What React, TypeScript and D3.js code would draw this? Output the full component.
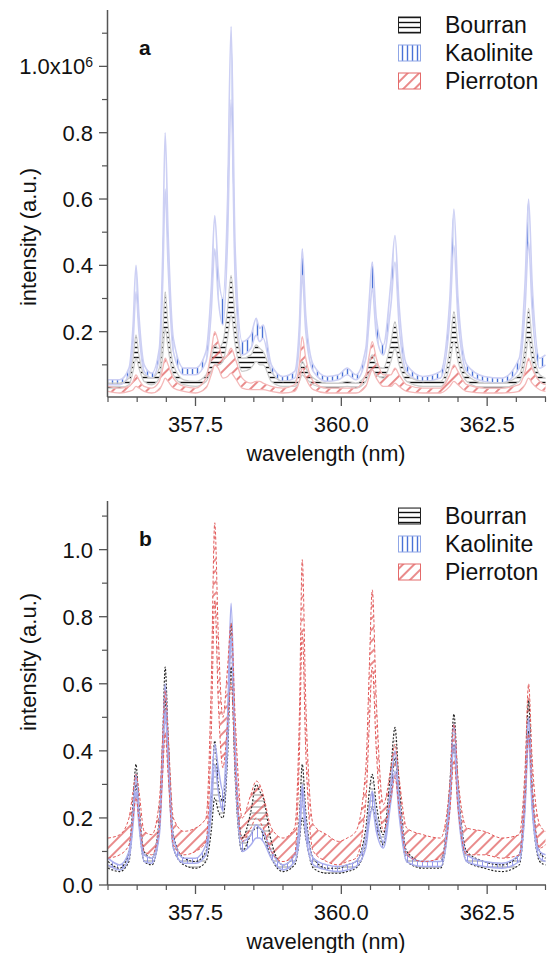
import React from 'react';
import * as d3 from 'd3';

// shared wavelength grid (nm)
const wavelength = [
  356.0, 356.2, 356.36, 356.43, 356.48, 356.53, 356.62, 356.75, 356.88, 356.94,
  356.98, 357.03, 357.12, 357.3, 357.5, 357.68, 357.77, 357.83, 357.89, 357.97,
  358.05, 358.11, 358.18, 358.3, 358.45, 358.54, 358.6, 358.66, 358.8, 359.0,
  359.2, 359.28, 359.33, 359.39, 359.52, 359.75, 359.95, 360.1, 360.25, 360.42,
  360.48, 360.53, 360.6, 360.72, 360.85, 360.92, 360.99, 361.12, 361.4, 361.7,
  361.86, 361.93, 362.0, 362.15, 362.45, 362.75, 363.05, 363.15, 363.21, 363.27,
  363.4, 363.5,
];

// panel a (x10^6)
const kaoUpperA = [
  0.055, 0.055, 0.09, 0.22, 0.40, 0.25, 0.10, 0.075, 0.15, 0.45,
  0.80, 0.50, 0.18, 0.09, 0.09, 0.14, 0.33, 0.55, 0.38, 0.30,
  0.60, 1.12, 0.45, 0.17, 0.19, 0.24, 0.21, 0.22, 0.10, 0.065,
  0.08, 0.22, 0.45, 0.25, 0.10, 0.065, 0.07, 0.09, 0.07, 0.15,
  0.30, 0.41, 0.24, 0.16, 0.35, 0.49, 0.28, 0.10, 0.065, 0.08,
  0.30, 0.57, 0.30, 0.10, 0.065, 0.06, 0.12, 0.35, 0.60, 0.35,
  0.12, 0.13,
];
const kaoLowerA = [
  0.04, 0.04, 0.07, 0.17, 0.32, 0.20, 0.08, 0.06, 0.12, 0.36,
  0.63, 0.40, 0.14, 0.07, 0.07, 0.11, 0.26, 0.45, 0.30, 0.22,
  0.48, 0.90, 0.36, 0.13, 0.15, 0.19, 0.17, 0.18, 0.08, 0.05,
  0.06, 0.17, 0.37, 0.20, 0.08, 0.05, 0.055, 0.07, 0.055, 0.12,
  0.24, 0.33, 0.19, 0.13, 0.28, 0.41, 0.22, 0.08, 0.05, 0.06,
  0.24, 0.46, 0.24, 0.08, 0.05, 0.045, 0.09, 0.27, 0.47, 0.27,
  0.09, 0.10,
];
const bouUpperA = [
  0.045, 0.045, 0.06, 0.12, 0.19, 0.13, 0.07, 0.06, 0.09, 0.20,
  0.32, 0.22, 0.10, 0.055, 0.05, 0.07, 0.12, 0.16, 0.15, 0.17,
  0.27, 0.37, 0.24, 0.12, 0.13, 0.16, 0.15, 0.14, 0.08, 0.05,
  0.05, 0.08, 0.11, 0.09, 0.06, 0.045, 0.045, 0.05, 0.045, 0.07,
  0.11, 0.13, 0.10, 0.09, 0.17, 0.23, 0.15, 0.07, 0.05, 0.05,
  0.15, 0.26, 0.16, 0.07, 0.045, 0.045, 0.07, 0.16, 0.27, 0.17,
  0.07, 0.06,
];
const bouLowerA = [
  0.03, 0.03, 0.04, 0.08, 0.12, 0.09, 0.05, 0.04, 0.06, 0.13,
  0.21, 0.15, 0.07, 0.04, 0.035, 0.05, 0.08, 0.10, 0.10, 0.11,
  0.18, 0.25, 0.16, 0.08, 0.09, 0.11, 0.10, 0.10, 0.05, 0.035,
  0.035, 0.05, 0.07, 0.06, 0.04, 0.03, 0.03, 0.035, 0.03, 0.05,
  0.075, 0.085, 0.07, 0.06, 0.11, 0.15, 0.10, 0.05, 0.035, 0.035,
  0.10, 0.17, 0.11, 0.05, 0.03, 0.03, 0.05, 0.11, 0.18, 0.11,
  0.05, 0.04,
];
const pieUpperA = [
  0.035, 0.03, 0.035, 0.05, 0.07, 0.055, 0.035, 0.03, 0.05, 0.09,
  0.12, 0.10, 0.06, 0.035, 0.03, 0.06, 0.14, 0.20, 0.17, 0.12,
  0.13, 0.15, 0.12, 0.06, 0.045, 0.05, 0.05, 0.045, 0.035, 0.03,
  0.04, 0.10, 0.185, 0.12, 0.05, 0.03, 0.03, 0.03, 0.03, 0.07,
  0.13, 0.17, 0.12, 0.07, 0.07, 0.09, 0.07, 0.04, 0.03, 0.03,
  0.07, 0.10, 0.08, 0.04, 0.03, 0.03, 0.04, 0.08, 0.12, 0.09,
  0.05, 0.04,
];
const pieLowerA = [
  0.02, 0.015, 0.02, 0.025, 0.035, 0.03, 0.02, 0.015, 0.025, 0.045,
  0.06, 0.05, 0.03, 0.02, 0.015, 0.03, 0.07, 0.10, 0.09, 0.06,
  0.065, 0.075, 0.06, 0.03, 0.025, 0.025, 0.025, 0.025, 0.02, 0.015,
  0.02, 0.05, 0.09, 0.06, 0.025, 0.015, 0.015, 0.015, 0.015, 0.035,
  0.065, 0.085, 0.06, 0.035, 0.035, 0.045, 0.035, 0.02, 0.015, 0.015,
  0.035, 0.05, 0.04, 0.02, 0.015, 0.015, 0.02, 0.04, 0.06, 0.045,
  0.025, 0.02,
];

// panel b (normalised)
const pieUpperB = [
  0.14, 0.15, 0.20, 0.28, 0.33, 0.28, 0.16, 0.15, 0.25, 0.45,
  0.58, 0.45, 0.20, 0.16, 0.17, 0.20, 0.60, 1.08, 0.75, 0.50,
  0.65, 0.78, 0.50, 0.20, 0.27, 0.31, 0.30, 0.27, 0.17, 0.14,
  0.17, 0.50, 0.97, 0.55, 0.18, 0.15, 0.13, 0.14, 0.16, 0.35,
  0.65, 0.88, 0.55, 0.24, 0.35, 0.42, 0.32, 0.17, 0.15, 0.14,
  0.30, 0.48, 0.32, 0.17, 0.16, 0.14, 0.15, 0.35, 0.60, 0.38,
  0.18, 0.16,
];
const pieLowerB = [
  0.08, 0.09, 0.12, 0.20, 0.26, 0.20, 0.10, 0.09, 0.17, 0.34,
  0.45, 0.33, 0.12, 0.09, 0.10, 0.13, 0.45, 0.85, 0.55, 0.35,
  0.48, 0.60, 0.35, 0.13, 0.17, 0.20, 0.19, 0.17, 0.10, 0.07,
  0.09, 0.38, 0.75, 0.40, 0.10, 0.07, 0.06, 0.07, 0.08, 0.25,
  0.48, 0.65, 0.40, 0.16, 0.26, 0.32, 0.23, 0.09, 0.07, 0.08,
  0.22, 0.37, 0.23, 0.09, 0.09, 0.08, 0.09, 0.26, 0.45, 0.28,
  0.11, 0.12,
];
const bouUpperB = [
  0.07, 0.05, 0.10, 0.25, 0.36, 0.24, 0.10, 0.08, 0.20, 0.45,
  0.65, 0.45, 0.15, 0.08, 0.07, 0.10, 0.25, 0.43, 0.30, 0.25,
  0.45, 0.78, 0.40, 0.14, 0.22, 0.30, 0.28, 0.26, 0.13, 0.06,
  0.09, 0.20, 0.36, 0.22, 0.08, 0.05, 0.05, 0.06, 0.07, 0.17,
  0.28, 0.33, 0.24, 0.15, 0.35, 0.47, 0.30, 0.10, 0.07, 0.07,
  0.30, 0.51, 0.30, 0.10, 0.07, 0.06, 0.09, 0.30, 0.55, 0.30,
  0.10, 0.08,
];
const bouLowerB = [
  0.05, 0.04, 0.07, 0.20, 0.30, 0.19, 0.07, 0.06, 0.16, 0.38,
  0.55, 0.37, 0.11, 0.06, 0.05, 0.07, 0.16, 0.26, 0.22, 0.20,
  0.38, 0.65, 0.32, 0.10, 0.15, 0.17, 0.17, 0.15, 0.08, 0.04,
  0.06, 0.13, 0.20, 0.14, 0.05, 0.035, 0.035, 0.04, 0.05, 0.12,
  0.20, 0.23, 0.18, 0.12, 0.28, 0.38, 0.24, 0.07, 0.05, 0.05,
  0.24, 0.42, 0.24, 0.07, 0.05, 0.04, 0.06, 0.24, 0.46, 0.24,
  0.07, 0.06,
];
const kaoUpperB = [
  0.08, 0.06, 0.10, 0.22, 0.33, 0.22, 0.09, 0.08, 0.18, 0.42,
  0.60, 0.42, 0.14, 0.08, 0.08, 0.12, 0.28, 0.42, 0.35, 0.28,
  0.50, 0.84, 0.42, 0.13, 0.15, 0.18, 0.17, 0.16, 0.10, 0.06,
  0.09, 0.18, 0.30, 0.19, 0.08, 0.06, 0.055, 0.06, 0.07, 0.14,
  0.23, 0.28, 0.20, 0.13, 0.30, 0.40, 0.26, 0.09, 0.07, 0.07,
  0.28, 0.48, 0.28, 0.09, 0.07, 0.065, 0.09, 0.28, 0.50, 0.28,
  0.10, 0.09,
];
const kaoLowerB = [
  0.06, 0.045, 0.08, 0.18, 0.28, 0.18, 0.07, 0.065, 0.15, 0.36,
  0.52, 0.36, 0.11, 0.065, 0.065, 0.09, 0.22, 0.36, 0.28, 0.22,
  0.42, 0.74, 0.35, 0.10, 0.12, 0.14, 0.14, 0.13, 0.08, 0.045,
  0.07, 0.14, 0.25, 0.15, 0.06, 0.045, 0.04, 0.045, 0.055, 0.11,
  0.19, 0.23, 0.16, 0.11, 0.25, 0.34, 0.21, 0.07, 0.055, 0.055,
  0.23, 0.42, 0.23, 0.07, 0.055, 0.05, 0.07, 0.23, 0.44, 0.23,
  0.08, 0.07,
];

const legendNames = ['Bourran', 'Kaolinite', 'Pierroton'];
const xMajorTicks = [357.5, 360.0, 362.5];
const xMinorTicks = [356.0, 356.5, 357.0, 358.0, 358.5, 359.0, 359.5, 360.5, 361.0, 361.5, 362.0, 363.0, 363.5];
const yMajorTicksA = [0.2, 0.4, 0.6, 0.8, 1.0];
const yMinorTicksA = [0.1, 0.3, 0.5, 0.7, 0.9, 1.1];
const yMajorTicksB = [0.0, 0.2, 0.4, 0.6, 0.8, 1.0];
const yMinorTicksB = [0.1, 0.3, 0.5, 0.7, 0.9, 1.1];

const FONT = '"Liberation Sans", Arial, Helvetica, sans-serif';
const AXIS = '#555';

const x = d3.scaleLinear().domain([356.0, 363.5]).range([108, 545.5]);
const X0 = 108;
const X1 = 546;

type Band = { lower: number[]; upper: number[]; fill: string; stroke: string; width: number; dash?: string };

const swatch = [
  { fill: 'url(#hatchH)', stroke: '#222' },
  { fill: 'url(#hatchV)', stroke: '#8fa6e6' },
  { fill: 'url(#hatchD)', stroke: '#e46a6a' },
];

function Panel(props: {
  id: string; top: number; bottom: number; domain: [number, number];
  bands: Band[]; major: number[]; minor: number[]; letter: string; sci: boolean; titleY: number;
}) {
  const { id, top, bottom, domain, bands, major, minor, letter, sci, titleY } = props;
  const y = d3.scaleLinear().domain(domain).range([bottom, top]);
  const idx = wavelength.map((_, i) => i);
  const legendY = [top + 15, top + 43, top + 71];
  const mk = (b: Band) => ({
    area: d3.area<number>().x(i => x(wavelength[i])).y0(i => y(b.lower[i])).y1(i => y(b.upper[i])).curve(d3.curveMonotoneX),
    lo: d3.line<number>().x(i => x(wavelength[i])).y(i => y(b.lower[i])).curve(d3.curveMonotoneX),
    hi: d3.line<number>().x(i => x(wavelength[i])).y(i => y(b.upper[i])).curve(d3.curveMonotoneX),
  });
  return (
    <g>
      <clipPath id={`clip-${id}`}>
        <rect x={X0} y={top} width={X1 - X0} height={bottom - top} />
      </clipPath>
      <g clipPath={`url(#clip-${id})`}>
        {bands.map((b, k) => (
          <path key={`f${k}`} d={mk(b).area(idx) || ''} fill={b.fill} stroke="none" />
        ))}
        {bands.map((b, k) => {
          const g = mk(b);
          return (
            <g key={`l${k}`}>
              <path d={g.hi(idx) || ''} fill="none" stroke={b.stroke} strokeWidth={b.width} strokeDasharray={b.dash} />
              <path d={g.lo(idx) || ''} fill="none" stroke={b.stroke} strokeWidth={b.width} strokeDasharray={b.dash} />
            </g>
          );
        })}
      </g>
      {/* axes */}
      <line x1={107.5} x2={107.5} y1={top} y2={bottom} stroke={AXIS} strokeWidth={1.5} />
      <line x1={107.5} x2={X1} y1={bottom} y2={bottom} stroke={AXIS} strokeWidth={1.5} />
      {major.map(t => (
        <g key={`ym${t}`}>
          <line x1={99} x2={107.5} y1={y(t)} y2={y(t)} stroke={AXIS} strokeWidth={1.3} />
          <text x={93} y={y(t)} dy="0.36em" textAnchor="end" fontSize={22} fontFamily={FONT} fill="#111">
            {sci && t === 1 ? (<>1.0x10<tspan dy="-0.55em" fontSize={14}>6</tspan></>) : t.toFixed(1)}
          </text>
        </g>
      ))}
      {minor.map(t => (
        <line key={`yn${t}`} x1={102} x2={107.5} y1={y(t)} y2={y(t)} stroke={AXIS} strokeWidth={1.2} />
      ))}
      {xMajorTicks.map(t => (
        <g key={`xm${t}`}>
          <line x1={x(t)} x2={x(t)} y1={bottom} y2={bottom + 9} stroke={AXIS} strokeWidth={1.3} />
          <text x={x(t)} y={bottom + 27} dy="0.36em" textAnchor="middle" fontSize={22} fontFamily={FONT} fill="#111">
            {t.toFixed(1)}
          </text>
        </g>
      ))}
      {xMinorTicks.map(t => (
        <line key={`xn${t}`} x1={x(t)} x2={x(t)} y1={bottom} y2={bottom + 5} stroke={AXIS} strokeWidth={1.2} />
      ))}
      <text x={326} y={bottom + 56} dy="0.36em" textAnchor="middle" fontSize={21.5} fontFamily={FONT} fill="#111">
        wavelength (nm)
      </text>
      <text transform={`translate(28,${titleY}) rotate(-90)`} dy="0.36em" textAnchor="middle"
        fontSize={22} fontFamily={FONT} fill="#111">
        intensity (a.u.)
      </text>
      <text x={139} y={top + 37} dy="0.36em" fontSize={21} fontWeight="bold" fontFamily={FONT} fill="#111">{letter}</text>
      {legendNames.map((n, k) => (
        <g key={n}>
          <rect x={398.5} y={legendY[k] - 8} width={22} height={16} fill={swatch[k].fill} stroke={swatch[k].stroke} strokeWidth={1} />
          <text x={445} y={legendY[k]} dy="0.36em" fontSize={23} fontFamily={FONT} fill="#111">{n}</text>
        </g>
      ))}
    </g>
  );
}

export default function App() {
  const bandsA: Band[] = [
    { lower: kaoLowerA, upper: kaoUpperA, fill: 'url(#hatchV)', stroke: '#cdd0f4', width: 1.6 },
    { lower: bouLowerA, upper: bouUpperA, fill: 'url(#hatchH)', stroke: '#cccccc', width: 1.3 },
    { lower: pieLowerA, upper: pieUpperA, fill: 'url(#hatchD)', stroke: '#f4b8b8', width: 1.3 },
  ];
  const bandsB: Band[] = [
    { lower: bouLowerB, upper: bouUpperB, fill: 'url(#hatchHb)', stroke: '#222', width: 1.1, dash: '2,1.6' },
    { lower: kaoLowerB, upper: kaoUpperB, fill: 'url(#hatchVb)', stroke: '#a9aeee', width: 1.5 },
    { lower: pieLowerB, upper: pieUpperB, fill: 'url(#hatchD)', stroke: '#e25a5a', width: 1, dash: '3,2' },
  ];
  return (
    <svg width={554} height={953} style={{ position: 'absolute', left: 0, top: 0, background: '#fff' }}>
      <defs>
        <pattern id="hatchH" patternUnits="userSpaceOnUse" width={6} height={5}>
          <line x1={0} x2={6} y1={2.5} y2={2.5} stroke="#111" strokeWidth={1.4} />
        </pattern>
        <pattern id="hatchHb" patternUnits="userSpaceOnUse" width={6} height={6}>
          <line x1={0} x2={6} y1={3} y2={3} stroke="#666" strokeWidth={0.7} />
        </pattern>
        <pattern id="hatchV" patternUnits="userSpaceOnUse" width={5} height={6}>
          <line x1={2.5} x2={2.5} y1={0} y2={6} stroke="#4a72d6" strokeWidth={1.4} />
        </pattern>
        <pattern id="hatchVb" patternUnits="userSpaceOnUse" width={5} height={6}>
          <line x1={2.5} x2={2.5} y1={0} y2={6} stroke="#7a7ee6" strokeWidth={0.8} />
        </pattern>
        <pattern id="hatchD" patternUnits="userSpaceOnUse" width={8} height={8} patternTransform="rotate(45)">
          <line x1={4} x2={4} y1={0} y2={8} stroke="#e05858" strokeWidth={1.4} />
        </pattern>
      </defs>
      <rect x={0} y={0} width={554} height={953} fill="#fff" />
      <Panel id="a" top={10} bottom={397} domain={[0.003, 1.17]} bands={bandsA}
        major={yMajorTicksA} minor={yMinorTicksA} letter="a" sci={true} titleY={237} />
      <Panel id="b" top={501} bottom={885} domain={[0, 1.145]} bands={bandsB}
        major={yMajorTicksB} minor={yMinorTicksB} letter="b" sci={false} titleY={662} />
    </svg>
  );
}
